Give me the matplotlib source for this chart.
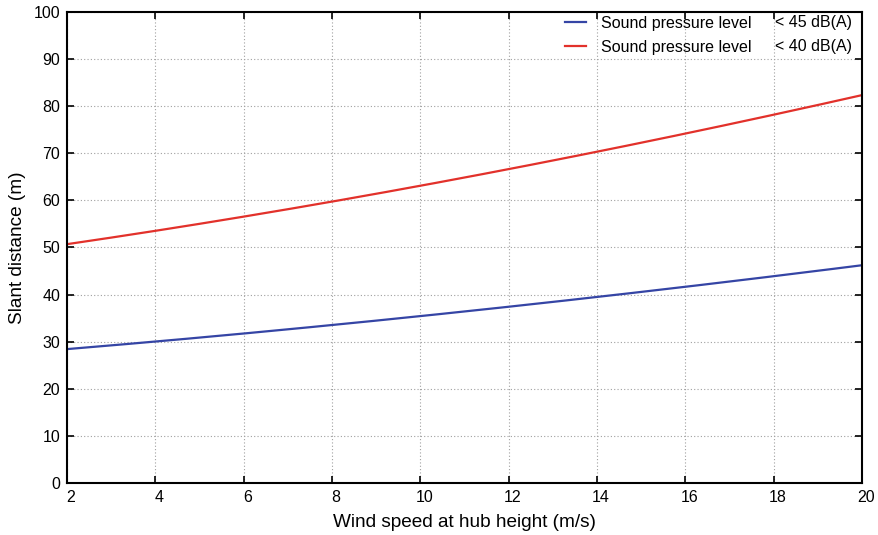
import matplotlib
matplotlib.use('Agg')
import numpy as np
import matplotlib.pyplot as plt
from matplotlib import rcParams
from matplotlib.transforms import ScaledTranslation

rcParams.update({
    'font.family': ['Liberation Sans', 'DejaVu Sans'],
    'font.size': 10,
    'axes.linewidth': 1.5,
})

wind_speed = [2, 4, 6, 8, 10, 12, 14, 16, 18, 20]
spl_45 = [28.4, 30.1, 31.8, 33.5, 35.4, 37.4, 39.5, 41.7, 43.9, 46.2]
spl_40 = [50.7, 53.5, 56.5, 59.7, 63.1, 66.6, 70.3, 74.1, 78.1, 82.3]
labels = ["Sound pressure level", "Sound pressure level"]
limits = ["< 45 dB(A)", "< 40 dB(A)"]

fig = plt.figure(figsize=(8.79, 5.35), dpi=100)
ax = fig.add_axes([67 / 879, 1 - 483.3 / 535, 795 / 879, 471.8 / 535])

# smooth the read-off points a little for drawing
xs = np.linspace(2, 20, 200)
p45 = np.polyfit(wind_speed, spl_45, 3)
p40 = np.polyfit(wind_speed, spl_40, 3)
l1, = ax.plot(xs, np.polyval(p45, xs), color='#3545a5', lw=1.6)
l2, = ax.plot(xs, np.polyval(p40, xs), color='#e2312b', lw=1.6)

ax.set_xlim(2, 20)
ax.set_ylim(0, 100)
ax.set_xticks(np.arange(2, 21, 2))
ax.set_yticks(np.arange(0, 101, 10))
ax.grid(True, color='#a0a0a0', linestyle=(0, (1, 2)), linewidth=0.8)
ax.tick_params(direction='in', length=5, width=1.2, top=True, right=True, labelsize=11.5)
ax.tick_params(axis='x', pad=5)
ax.tick_params(axis='y', pad=5)
# gnuplot-like small shift of the x tick labels to the right
shift = ScaledTranslation(4 / 100, 0, fig.dpi_scale_trans)
for lab in ax.get_xticklabels():
    lab.set_transform(lab.get_transform() + shift)

ax.set_xlabel("Wind speed at hub height (m/s)", fontsize=13.7, labelpad=6)
ax.set_ylabel("Slant distance (m)", fontsize=13.7, labelpad=5.5)

leg = ax.legend([l1, l2], labels, loc='upper right', frameon=False, fontsize=11.5,
                bbox_to_anchor=(0.879, 1.021), handlelength=1.3, handletextpad=0.95,
                labelspacing=0.55)
for i, t in enumerate(limits):
    ax.text(0.89, 1 - (22.7 - 11.5) / 471.8 - i * 24 / 471.8, t, transform=ax.transAxes,
            fontsize=11.5, va='center', ha='left')

fig.savefig('out.png', dpi=100)
